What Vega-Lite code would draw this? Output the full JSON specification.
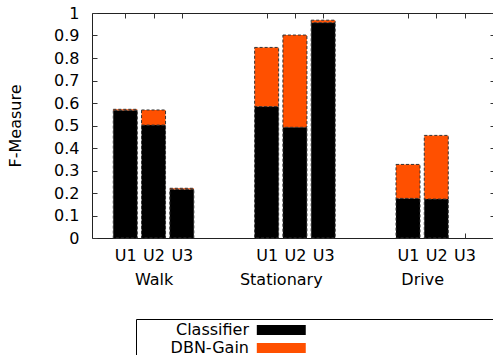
{
  "$schema": "https://vega.github.io/schema/vega-lite/v6.json",
  "width": 403,
  "height": 225,
  "autosize": "none",
  "padding": {"left": 92, "top": 13, "right": 0, "bottom": 117},
  "config": {
    "font": "DejaVu Sans",
    "view": {"stroke": "#222", "strokeWidth": 1},
    "axis": {
      "grid": false,
      "domain": false,
      "labelFont": "DejaVu Sans",
      "labelFontSize": 16,
      "labelColor": "black",
      "titleFont": "DejaVu Sans",
      "titleFontSize": 16,
      "titleFontWeight": "normal",
      "titleColor": "black",
      "tickColor": "#333",
      "tickSize": -5
    }
  },
  "data": {
    "values": [
      {"activity": "Walk", "user": "U1", "slot": 0, "series": "Classifier", "value": 0.567},
      {"activity": "Walk", "user": "U1", "slot": 0, "series": "DBN-Gain", "value": 0.005},
      {"activity": "Walk", "user": "U2", "slot": 1, "series": "Classifier", "value": 0.502},
      {"activity": "Walk", "user": "U2", "slot": 1, "series": "DBN-Gain", "value": 0.067},
      {"activity": "Walk", "user": "U3", "slot": 2, "series": "Classifier", "value": 0.216},
      {"activity": "Walk", "user": "U3", "slot": 2, "series": "DBN-Gain", "value": 0.005},
      {"activity": "Stationary", "user": "U1", "slot": 5, "series": "Classifier", "value": 0.584},
      {"activity": "Stationary", "user": "U1", "slot": 5, "series": "DBN-Gain", "value": 0.263},
      {"activity": "Stationary", "user": "U2", "slot": 6, "series": "Classifier", "value": 0.492},
      {"activity": "Stationary", "user": "U2", "slot": 6, "series": "DBN-Gain", "value": 0.41},
      {"activity": "Stationary", "user": "U3", "slot": 7, "series": "Classifier", "value": 0.957},
      {"activity": "Stationary", "user": "U3", "slot": 7, "series": "DBN-Gain", "value": 0.011},
      {"activity": "Drive", "user": "U1", "slot": 10, "series": "Classifier", "value": 0.176},
      {"activity": "Drive", "user": "U1", "slot": 10, "series": "DBN-Gain", "value": 0.151},
      {"activity": "Drive", "user": "U2", "slot": 11, "series": "Classifier", "value": 0.173},
      {"activity": "Drive", "user": "U2", "slot": 11, "series": "DBN-Gain", "value": 0.283},
      {"activity": "Drive", "user": "U3", "slot": 12, "series": "Classifier", "value": 0},
      {"activity": "Drive", "user": "U3", "slot": 12, "series": "DBN-Gain", "value": 0}
    ]
  },
  "layer": [
    {
      "transform": [{"filter": "datum.value > 0"}],
      "mark": {"type": "bar", "size": 24, "stroke": "#333", "strokeWidth": 1, "strokeDash": [3, 2]},
      "encoding": {
        "x": {
          "field": "slot",
          "type": "quantitative",
          "scale": {"domain": [-1, 12.9], "nice": false, "zero": false},
          "axis": {
            "orient": "bottom",
            "title": null,
            "values": [0, 1, 2, 5, 6, 7, 10, 11, 12, 1.001, 5.5, 10.5],
            "labelExpr": "datum.value % 1 != 0 ? (datum.value < 3 ? 'Walk' : datum.value < 8 ? 'Stationary' : 'Drive') : 'U' + (datum.value % 5 + 1)",
            "labelOverlap": false,
            "labelFlush": false,
            "labelBound": false,
            "labelPadding": {"condition": {"test": "datum.value % 1 != 0", "value": 38}, "value": 14},
            "tickOpacity": {"condition": {"test": "datum.value % 1 != 0", "value": 0}, "value": 1}
          }
        },
        "y": {
          "field": "value",
          "type": "quantitative",
          "stack": "zero",
          "scale": {"domain": [0, 1], "nice": false},
          "axis": {
            "orient": "left",
            "values": [0, 0.1, 0.2, 0.3, 0.4, 0.5, 0.6, 0.7, 0.8, 0.9, 1],
            "format": ".1~f",
            "labelPadding": 18,
            "title": "F-Measure",
            "titlePadding": 30
          }
        },
        "color": {
          "field": "series",
          "type": "nominal",
          "scale": {"domain": ["Classifier", "DBN-Gain"], "range": ["#000000", "#ff5000"]},
          "legend": {
            "orient": "none",
            "legendX": 44,
            "legendY": 306,
            "title": null,
            "direction": "vertical",
            "symbolType": "M12.2,-0.556H17.64V0.556H12.2ZM39.2,0",
            "symbolSize": 324,
            "symbolStrokeWidth": 0,
            "symbolOpacity": 1,
            "labelAlign": "right",
            "labelOffset": 93,
            "labelFont": "DejaVu Sans",
            "labelFontSize": 16,
            "labelColor": "black",
            "strokeColor": "black",
            "padding": 2,
            "rowPadding": 1
          }
        },
        "order": {"field": "series", "type": "ordinal", "sort": "ascending"}
      }
    },
    {
      "mark": {"type": "point", "opacity": 0},
      "encoding": {
        "x": {
          "field": "slot",
          "type": "quantitative",
          "axis": {"orient": "top", "title": null, "labels": false, "values": [0, 1, 2, 5, 6, 7, 10, 11, 12]}
        },
        "y": {
          "field": "value",
          "type": "quantitative",
          "axis": {"orient": "right", "title": null, "labels": false, "values": [0, 0.1, 0.2, 0.3, 0.4, 0.5, 0.6, 0.7, 0.8, 0.9, 1]}
        }
      }
    }
  ],
  "resolve": {"axis": {"x": "independent", "y": "independent"}}
}
